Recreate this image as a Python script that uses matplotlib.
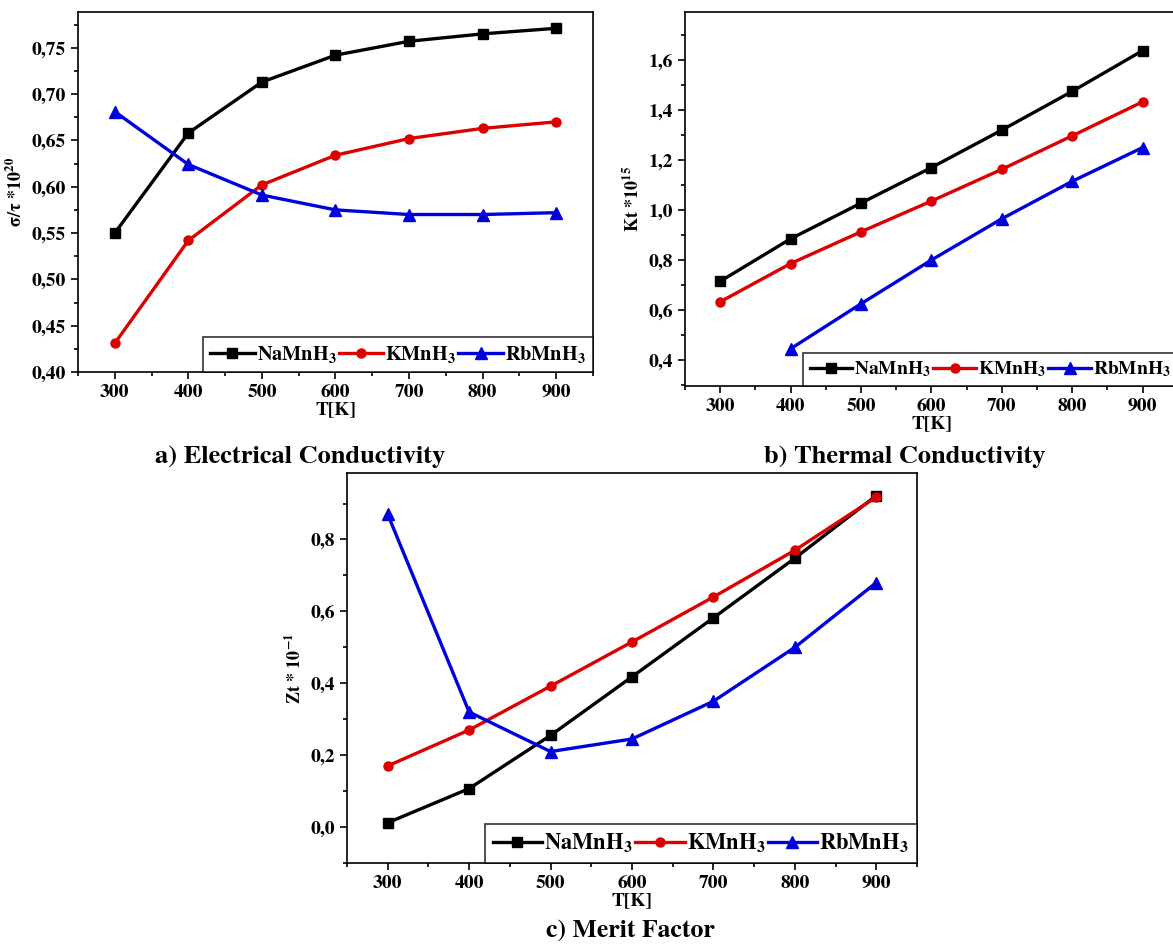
import matplotlib
matplotlib.use('Agg')
import matplotlib.pyplot as plt
from matplotlib.ticker import MultipleLocator, FuncFormatter

# Fuente tipo Times en negrita para todo (STIX viene con matplotlib)
plt.rcParams['font.family'] = ['STIXGeneral', 'DejaVu Serif']
plt.rcParams['font.weight'] = 'bold'
plt.rcParams['axes.labelweight'] = 'bold'
plt.rcParams['mathtext.default'] = 'regular'

# Datos
temps = [300, 400, 500, 600, 700, 800, 900]
temps_rb_b = [400, 500, 600, 700, 800, 900]

sigma_na = [0.550, 0.658, 0.713, 0.742, 0.757, 0.765, 0.771]
sigma_k = [0.431, 0.542, 0.602, 0.634, 0.652, 0.663, 0.670]
sigma_rb = [0.681, 0.624, 0.591, 0.575, 0.570, 0.570, 0.572]

kt_na = [0.715, 0.885, 1.028, 1.170, 1.320, 1.475, 1.638]
kt_k = [0.633, 0.786, 0.913, 1.036, 1.163, 1.297, 1.433]
kt_rb = [0.445, 0.625, 0.800, 0.965, 1.115, 1.250]

zt_na = [0.012, 0.107, 0.255, 0.418, 0.582, 0.748, 0.922]
zt_k = [0.170, 0.270, 0.392, 0.515, 0.640, 0.770, 0.918]
zt_rb = [0.870, 0.320, 0.210, 0.245, 0.350, 0.500, 0.680]

nombres = ['NaMnH$_3$', 'KMnH$_3$', 'RbMnH$_3$']
colores = ['black', '#dd0000', '#0000dd']
marcadores = ['s', 'o', '^']
tamanos = [7, 6.5, 8]


def coma(decimales):
    return FuncFormatter(lambda v, p: f'{v:.{decimales}f}'.replace('.', ','))


def dibujar_panel(ax, series, ylim, ymaj, ymin, dec, ylabel, leg_size):
    for (x, y), nom, col, mk, ms in zip(series, nombres, colores, marcadores, tamanos):
        ax.plot(x, y, color=col, marker=mk, markersize=ms, linewidth=2.4, label=nom)
    ax.set_xlim(250, 950)
    ax.set_ylim(*ylim)
    ax.xaxis.set_major_locator(MultipleLocator(100))
    ax.xaxis.set_minor_locator(MultipleLocator(50))
    ax.yaxis.set_major_locator(MultipleLocator(ymaj))
    ax.yaxis.set_minor_locator(MultipleLocator(ymin))
    ax.yaxis.set_major_formatter(coma(dec))
    ax.tick_params(which='major', direction='out', length=5, width=1.2, labelsize=14)
    ax.tick_params(which='minor', direction='out', length=3, width=1.2)
    for s in ax.spines.values():
        s.set_linewidth(1.2)
    ax.set_xlabel('T[K]', fontsize=14, fontweight='bold', labelpad=0)
    ax.set_ylabel(ylabel, fontsize=13, fontweight='bold', labelpad=4)
    leg = ax.legend(loc='lower right', bbox_to_anchor=(1, 0), ncol=3,
                    prop={'size': leg_size, 'weight': 'bold'},
                    frameon=True, fancybox=False, edgecolor='black', borderaxespad=0,
                    handlelength=2.2, handletextpad=0.1, columnspacing=0.1,
                    borderpad=0.35)
    leg.get_frame().set_linewidth(1.2)


fig = plt.figure(figsize=(11.73, 9.44), dpi=100)

ax_a = fig.add_axes([0.0665, 0.6059, 0.439, 0.3814])
dibujar_panel(ax_a, [(temps, sigma_na), (temps, sigma_k), (temps, sigma_rb)],
              (0.40, 0.7886), 0.05, 0.025, 2, 'σ/τ *10$^{20}$', 14.6)

ax_b = fig.add_axes([0.584, 0.5911, 0.420, 0.396])
dibujar_panel(ax_b, [(temps, kt_na), (temps, kt_k), (temps_rb_b, kt_rb)],
              (0.296, 1.792), 0.2, 0.1, 1, 'Kt *10$^{15}$', 14)

ax_c = fig.add_axes([0.2958, 0.0858, 0.486, 0.4132])
dibujar_panel(ax_c, [(temps, zt_na), (temps, zt_k), (temps, zt_rb)],
              (-0.10, 0.985), 0.2, 0.1, 1, 'Zt * 10$^{-1}$', 16.2)

# Titulos de cada panel
fig.text(300 / 1173, 1 - 457 / 944, 'a) Electrical Conductivity', ha='center', va='center',
         fontsize=19, fontweight='bold')
fig.text(905 / 1173, 1 - 457 / 944, 'b) Thermal Conductivity', ha='center', va='center',
         fontsize=19, fontweight='bold')
fig.text(630 / 1173, 1 - 931 / 944, 'c) Merit Factor', ha='center', va='center',
         fontsize=18.5, fontweight='bold')

fig.savefig('out.png', dpi=100)
